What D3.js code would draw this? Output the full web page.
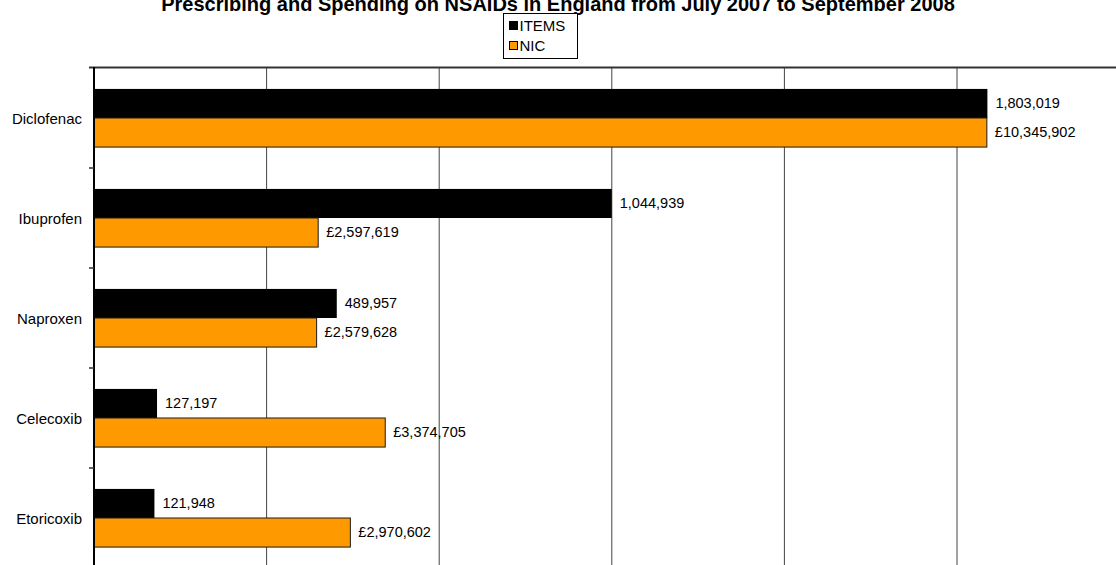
<!DOCTYPE html>
<html>
<head>
<meta charset="utf-8">
<script src="https://cdn.jsdelivr.net/npm/d3@7"></script>
<style>
  html, body { margin: 0; padding: 0; background: #fff; }
  svg text { font-family: Arial, "Liberation Sans", Helvetica, sans-serif; }
</style>
</head>
<body>
<svg id="chart" width="1116" height="565"></svg>
<script>
// Drugs, prescription items and net ingredient cost (NIC)
const categories = ["Diclofenac", "Ibuprofen", "Naproxen", "Celecoxib", "Etoricoxib"];
const items = [1803019, 1044939, 489957, 127197, 121948];
const nic = [10345902, 2597619, 2579628, 3374705, 2970602];
const seriesNames = ["ITEMS", "NIC"];
const nicTicks = [0, 2000000, 4000000, 6000000, 8000000, 10000000, 12000000];
const titleText = "Prescribing and Spending on NSAIDs in England from July 2007 to September 2008";

const colors = { ITEMS: "#000000", NIC: "#FF9900" };

const svg = d3.select("#chart");
const plotLeft = 94, plotTop = 68, bandH = 100;
const plotRight = plotLeft + 6 * 172.6;

// category bands, one per drug
const y = d3.scaleBand().domain(categories)
  .range([plotTop, plotTop + bandH * categories.length]).paddingInner(0).paddingOuter(0);
// two bars inside each band
const ySub = d3.scaleBand().domain(seriesNames)
  .range([0, y.bandwidth()]).paddingInner(0).paddingOuter(0.72);

// primary (NIC) and secondary (ITEMS) value axes share the plot width
const xNic = d3.scaleLinear().domain([0, 12000000]).range([plotLeft, plotRight]);
const xItems = d3.scaleLinear().domain([0, 2090000]).range([plotLeft, plotRight]);

const rows = categories.map((c, i) => ({ cat: c, ITEMS: items[i], NIC: nic[i] }));

// title
svg.append("text")
  .attr("x", 558).attr("y", 11)
  .attr("text-anchor", "middle")
  .attr("font-size", 20).attr("font-weight", "bold")
  .text(titleText);

// vertical gridlines from the NIC axis
svg.append("g").selectAll("line")
  .data(nicTicks.filter(d => d > 0))
  .join("line")
  .attr("x1", d => xNic(d)).attr("x2", d => xNic(d))
  .attr("y1", plotTop).attr("y2", 565)
  .attr("stroke", "#444").attr("stroke-width", 1);

// bars
const groups = svg.append("g").selectAll("g")
  .data(rows).join("g")
  .attr("transform", d => `translate(0,${y(d.cat)})`);

groups.append("rect")
  .attr("x", xItems(0))
  .attr("y", ySub("ITEMS"))
  .attr("width", d => xItems(d.ITEMS) - xItems(0))
  .attr("height", ySub.bandwidth())
  .attr("fill", colors.ITEMS);

groups.append("rect")
  .attr("x", xNic(0))
  .attr("y", ySub("NIC"))
  .attr("width", d => xNic(d.NIC) - xNic(0))
  .attr("height", ySub.bandwidth())
  .attr("fill", colors.NIC)
  .attr("stroke", "#1a1a1a").attr("stroke-width", 1);

// value labels
const fmt = d3.format(",");
groups.append("text")
  .attr("x", d => xItems(d.ITEMS) + 8)
  .attr("y", ySub("ITEMS") + ySub.bandwidth() / 2)
  .attr("dy", "0.3em")
  .attr("font-size", 14.5)
  .attr("fill", "#000")
  .text(d => fmt(d.ITEMS));

groups.append("text")
  .attr("x", d => xNic(d.NIC) + 8)
  .attr("y", ySub("NIC") + ySub.bandwidth() / 2)
  .attr("dy", "0.3em")
  .attr("font-size", 14.5)
  .attr("fill", "#000")
  .text(d => "£" + fmt(d.NIC));

// top frame line (secondary axis)
svg.append("line")
  .attr("x1", plotLeft - 5).attr("x2", 1116)
  .attr("y1", plotTop - 0.5).attr("y2", plotTop - 0.5)
  .attr("stroke", "#333").attr("stroke-width", 2);

// category axis
const yAxis = d3.axisLeft(y).tickSize(0).tickPadding(12);
const gy = svg.append("g").attr("transform", `translate(${plotLeft},0)`).call(yAxis);
gy.select(".domain").remove();
gy.selectAll("text")
  .attr("font-size", 15)
  .attr("fill", "#000")
  .attr("dy", "0.42em");

// axis line and band boundary ticks
svg.append("line")
  .attr("x1", plotLeft).attr("x2", plotLeft)
  .attr("y1", plotTop - 1).attr("y2", 565)
  .attr("stroke", "#000").attr("stroke-width", 2);
svg.append("g").selectAll("line")
  .data(categories)
  .join("line")
  .attr("x1", plotLeft - 5).attr("x2", plotLeft)
  .attr("y1", d => y(d) + bandH).attr("y2", d => y(d) + bandH)
  .attr("stroke", "#333").attr("stroke-width", 1.5);

// legend
const legend = svg.append("g").attr("transform", "translate(503.5,13.5)");
legend.append("rect")
  .attr("width", 74).attr("height", 45)
  .attr("fill", "#fff").attr("stroke", "#000").attr("stroke-width", 1);
seriesNames.forEach((name, i) => {
  const row = legend.append("g").attr("transform", `translate(6,${12 + i * 20})`);
  row.append("rect")
    .attr("x", 0).attr("y", -4).attr("width", 8).attr("height", 8)
    .attr("fill", colors[name]).attr("stroke", "#000").attr("stroke-width", 1);
  row.append("text")
    .attr("x", 10).attr("y", 0).attr("dy", "0.35em")
    .attr("font-size", 15)
    .text(name);
});
</script>
</body>
</html>
